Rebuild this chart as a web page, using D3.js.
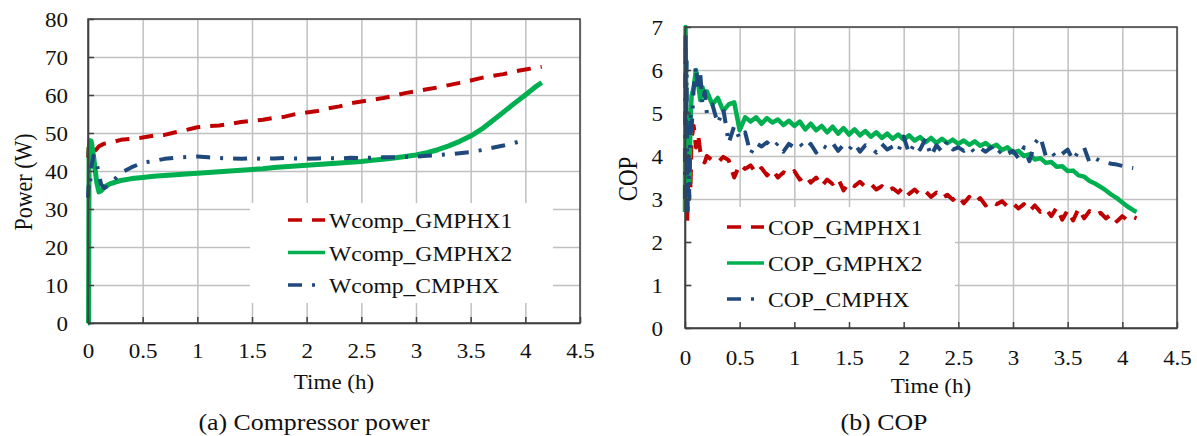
<!DOCTYPE html>
<html lang="en">
<head>
<meta charset="UTF-8">
<title>Compressor power and COP</title>
<script src="https://cdn.jsdelivr.net/npm/d3@7/dist/d3.min.js"></script>
<style>
  body { margin: 0; background: #fff; }
  svg text { font-family: "Liberation Serif", "Times New Roman", serif; fill: #111; }
</style>
</head>
<body>
<svg width="1197" height="436"></svg>
<script>
// ---- data: (a) compressor power, W ----
var powerT = [0, 0.005, 0.01, 0.02, 0.03, 0.05, 0.08, 0.1, 0.12, 0.15, 0.2, 0.25, 0.3,
  0.4, 0.5, 0.6, 0.7, 0.8, 0.9, 1.0, 1.1, 1.2, 1.3, 1.4, 1.5, 1.6, 1.7, 1.8, 1.9, 2.0,
  2.1, 2.2, 2.3, 2.4, 2.5, 2.6, 2.7, 2.8, 2.9, 3.0, 3.1, 3.2, 3.3, 3.4, 3.5, 3.6, 3.7,
  3.8, 3.9, 4.0, 4.1, 4.15];
var wGMPHX1 = [43.5, 46, 44.5, 44, 44.5, 45, 45.8, 46.5, 46.8, 47.2, 47.5, 47.8, 48.2,
  48.5, 48.8, 49.3, 49.5, 50.2, 50.8, 51.5, 51.8, 52.0, 52.4, 52.9, 53.2, 53.5, 54.0, 54.3, 55.0, 55.4,
  55.8, 56.5, 57.0, 57.8, 58.3, 58.7, 59.2, 59.8, 60.5, 61.0, 61.5, 62.0, 62.6, 63.2, 63.8, 64.5, 65.0,
  65.5, 66.2, 66.7, 67.2, 67.4];
var wGMPHX2 = [0, 0, 46, 48, 47.8, 44, 37, 34.5, 34.8, 35.8, 36.6, 37.1, 37.5,
  38.0, 38.3, 38.6, 38.8, 39.0, 39.2, 39.4, 39.6, 39.8, 40.0, 40.2, 40.4, 40.6, 40.9, 41.1, 41.3, 41.5,
  41.7, 41.9, 42.1, 42.3, 42.5, 42.8, 43.1, 43.4, 43.8, 44.2, 44.8, 45.6, 46.6, 47.8, 49.2, 51.0, 53.2,
  55.5, 57.8, 60.0, 62.3, 63.3];
var wCMPHX = [33, 36, 35, 37, 41, 44, 42, 39, 36.5, 35.5, 36.5, 38.0, 39.5,
  41.0, 42.2, 42.6, 43.2, 43.5, 43.7, 43.8, 43.6, 43.4, 43.3, 43.2, 43.4, 43.2, 43.3, 43.4, 43.3, 43.2,
  43.3, 43.4, 43.3, 43.5, 43.4, 43.5, 43.6, 43.6, 43.7, 43.8, 44.0, 44.2, 44.4, 44.7, 45.0, 45.5, 46.1,
  46.7, 47.4, 48.2, null, null];

// ---- data: (b) COP ----
var copT = [0, 0.005, 0.01, 0.015, 0.02, 0.025, 0.03, 0.04, 0.05, 0.06, 0.08, 0.1, 0.12, 0.14, 0.16, 0.18, 0.2,
  0.25, 0.3, 0.35, 0.4, 0.45, 0.5, 0.55, 0.6, 0.65, 0.7, 0.75, 0.8, 0.85, 0.9, 0.95, 1.0,
  1.05, 1.1, 1.15, 1.2, 1.25, 1.3, 1.35, 1.4, 1.45, 1.5, 1.55, 1.6, 1.65, 1.7, 1.75, 1.8,
  1.85, 1.9, 1.95, 2.0, 2.05, 2.1, 2.15, 2.2, 2.25, 2.3, 2.35, 2.4, 2.45, 2.5, 2.55, 2.6,
  2.65, 2.7, 2.75, 2.8, 2.85, 2.9, 2.95, 3.0, 3.05, 3.1, 3.15, 3.2, 3.25, 3.3, 3.35, 3.4,
  3.45, 3.5, 3.55, 3.6, 3.65, 3.7, 3.75, 3.8, 3.85, 3.9, 3.95, 4.0, 4.05, 4.1, 4.13];
var copGMPHX1 = [4.0, 6.5, 5.0, 3.0, 2.4, 3.5, 5.0, 4.6, 3.2, 4.4, 4.7, 4.2, 4.5, 4.1, 3.9, 3.85, 4.0,
  3.9, 3.85, 3.98, 3.9, 3.5, 3.8, 3.7, 3.78, 3.6, 3.72, 3.55, 3.68, 3.5, 3.62, 3.55, 3.65,
  3.45, 3.55, 3.38, 3.5, 3.3, 3.45, 3.35, 3.48, 3.2, 3.38, 3.3, 3.4, 3.28, 3.35, 3.22, 3.3,
  3.18, 3.25, 3.15, 3.28, 3.12, 3.22, 3.1, 3.18, 3.05, 3.15, 3.02, 3.1, 2.98, 3.08, 2.9, 3.05,
  2.92, 3.02, 2.85, 2.95, 2.88, 2.95, 2.82, 2.9, 2.78, 2.88, 2.72, 2.85, 2.7, 2.78, 2.6, 2.8,
  2.52, 2.74, 2.5, 2.78, 2.55, 2.72, 2.62, 2.68, 2.55, 2.65, 2.48, 2.6, 2.5, 2.58, 2.55];
var copGMPHX2 = [2.7, 7.0, 5.5, 3.2, 2.8, 3.6, 4.4, 3.4, 4.8, 5.4, 5.6, 6.0, 5.7, 5.3, 5.6, 5.4, 5.5,
  5.2, 5.35, 5.05, 5.2, 5.25, 4.6, 4.9, 4.8, 4.9, 4.75, 4.88, 4.78, 4.85, 4.72, 4.82, 4.7,
  4.8, 4.62, 4.75, 4.6, 4.7, 4.55, 4.68, 4.52, 4.65, 4.5, 4.62, 4.48, 4.58, 4.45, 4.55, 4.42,
  4.52, 4.4, 4.5, 4.38, 4.48, 4.36, 4.44, 4.32, 4.42, 4.3, 4.4, 4.3, 4.38, 4.28, 4.36, 4.26,
  4.34, 4.24, 4.3, 4.2, 4.26, 4.14, 4.2, 4.08, 4.12, 4.0, 4.04, 3.92, 3.95, 3.84, 3.86, 3.75,
  3.76, 3.65, 3.66, 3.55, 3.52, 3.42, 3.36, 3.28, 3.2, 3.1, 3.02, 2.92, 2.82, 2.74, 2.7];
var copCMPHX = [3.0, 6.9, 4.5, 6.2, 3.4, 2.6, 4.0, 3.0, 5.0, 4.6, 5.6, 6.1, 5.5, 5.9, 5.2, 5.5, 5.0,
  5.2, 4.75, 5.1, 4.3, 4.7, 4.4, 4.55, 4.05, 4.3, 4.22, 4.32, 4.18, 4.3, 4.1, 4.28, 4.2,
  4.3, 4.15, 4.28, 4.08, 4.25, 4.18, 4.3, 4.12, 4.26, 4.15, 4.3, 4.1, 4.25, 4.2, 4.08, 4.28,
  4.15, 4.22, 4.1, 4.45, 4.05, 4.3, 4.15, 4.4, 4.0, 4.25, 4.1, 4.35, 4.15, 4.2, 4.12, 4.22,
  4.08, 4.18, 4.1, 4.2, 4.02, 4.15, 4.05, 4.12, 3.95, 4.2, 3.88, 4.3, 4.45, 4.0, 4.1, 3.95,
  4.05, 4.15, 3.9, 4.12, 4.2, 3.85, 3.95, 3.88, 3.85, 3.82, 3.8, 3.77, 3.74, 3.72, null];

var timeTicks = [0, 0.5, 1, 1.5, 2, 2.5, 3, 3.5, 4, 4.5];
var powerTicks = [0, 10, 20, 30, 40, 50, 60, 70, 80];
var copTicks = [0, 1, 2, 3, 4, 5, 6, 7];

var SX = 1.15; // glyphs in the picture are a bit wide

var svg = d3.select('svg');

function stretchText(g, x, y, str, size, anchor, rotate) {
  return g.append('text')
    .attr('transform', 'translate(' + x + ',' + y + ') scale(' + SX + ',1)' + (rotate ? ' rotate(-90)' : ''))
    .attr('text-anchor', anchor)
    .attr('font-size', size)
    .text(str);
}

function drawPanel(cfg) {
  var g = svg.append('g');
  var x = d3.scaleLinear().domain([0, 4.5]).range([cfg.left, cfg.right]);
  var y = d3.scaleLinear().domain([0, cfg.ymax]).range([cfg.bottom, cfg.top]);
  var w = cfg.right - cfg.left, h = cfg.bottom - cfg.top;

  // grid
  g.append('g').attr('transform', 'translate(0,' + cfg.bottom + ')')
    .call(d3.axisBottom(x).tickValues(timeTicks).tickSize(-h).tickFormat(''))
    .call(function (a) { a.select('.domain').remove(); a.selectAll('line').attr('stroke', '#c0c0c0').attr('stroke-width', 1.5); });
  g.append('g').attr('transform', 'translate(' + cfg.left + ',0)')
    .call(d3.axisLeft(y).tickValues(cfg.yticks).tickSize(-w).tickFormat(''))
    .call(function (a) { a.select('.domain').remove(); a.selectAll('line').attr('stroke', '#c0c0c0').attr('stroke-width', 1.5); });

  // legend background
  g.append('rect').attr('x', cfg.legend.x).attr('y', cfg.legend.y)
    .attr('width', cfg.legend.w).attr('height', cfg.legend.h).attr('fill', '#fff');

  // series
  cfg.series.forEach(function (s) {
    var pts = cfg.t.map(function (t, i) { return [t, s.values[i]]; });
    var line = d3.line()
      .defined(function (d) { return d[1] !== null; })
      .x(function (d) { return x(d[0]); })
      .y(function (d) { return y(d[1]); });
    g.append('path').datum(pts).attr('d', line)
      .attr('fill', 'none').attr('stroke', s.color).attr('stroke-width', s.width)
      .attr('stroke-dasharray', s.dash).attr('stroke-linejoin', 'round');
  });

  // frame
  g.append('rect').attr('x', cfg.left).attr('y', cfg.top).attr('width', w).attr('height', h)
    .attr('fill', 'none').attr('stroke', '#404040').attr('stroke-width', 1.5);

  // axes with inward ticks
  g.append('g').attr('transform', 'translate(0,' + cfg.bottom + ')')
    .call(d3.axisBottom(x).tickValues(timeTicks).tickSize(-6).tickSizeOuter(0).tickFormat(d3.format('')))
    .call(function (a) {
      a.select('.domain').attr('stroke', '#404040').attr('stroke-width', 1.5);
      a.selectAll('line').attr('stroke', '#404040').attr('stroke-width', 1.5);
      a.selectAll('text').attr('y', null).attr('dy', null).attr('font-size', 20)
        .attr('font-family', null).attr('fill', '#111')
        .attr('transform', 'translate(0,' + cfg.xlabOff + ') scale(' + SX + ',1)');
    });
  g.append('g').attr('transform', 'translate(' + cfg.left + ',0)')
    .call(d3.axisLeft(y).tickValues(cfg.yticks).tickSize(-6).tickSizeOuter(0).tickFormat(d3.format('')))
    .call(function (a) {
      a.select('.domain').attr('stroke', '#404040').attr('stroke-width', 1.5);
      a.selectAll('line').attr('stroke', '#404040').attr('stroke-width', 1.5);
      a.selectAll('text').attr('x', null).attr('dy', null).attr('font-size', 20)
        .attr('font-family', null).attr('fill', '#111')
        .attr('transform', 'translate(' + (-cfg.ylabOff) + ',7) scale(' + SX + ',1)');
    });

  // titles
  stretchText(g, (cfg.left + cfg.right) / 2, cfg.xtitleY, 'Time (h)', 20, 'middle');
  stretchText(g, cfg.ytitleX, cfg.ytitleY, cfg.ytitle, cfg.ytitleSize, 'middle', true);
  stretchText(g, cfg.capX, 430, cfg.caption, 22.5, 'middle');

  // legend items
  cfg.series.forEach(function (s, i) {
    var ly = cfg.legend.y0 + i * cfg.legend.dy;
    g.append('line').attr('x1', cfg.legend.lx).attr('x2', cfg.legend.lx + 37)
      .attr('y1', ly).attr('y2', ly)
      .attr('stroke', s.color).attr('stroke-width', 3.5).attr('stroke-dasharray', s.dash);
    stretchText(g, cfg.legend.lx + 41, ly + 8, s.name, 20.5, 'start');
  });
}

var RED = '#c00000', GREEN = '#00b050', BLUE = '#1f497d';
var DASH = '14,10', DASHDOT = '14,10,3,10';

drawPanel({
  left: 88, right: 580, top: 19, bottom: 323, ymax: 80, yticks: powerTicks,
  t: powerT, xlabOff: 35, ylabOff: 20, xtitleY: 389,
  ytitle: 'Power (W)', ytitleX: 32, ytitleY: 182, ytitleSize: 22,
  caption: '(a) Compressor power', capX: 314,
  legend: { x: 250, y: 203, w: 303, h: 100, lx: 288, y0: 220, dy: 32.5 },
  series: [
    { name: 'Wcomp_GMPHX1', values: wGMPHX1, color: RED, width: 4, dash: DASH },
    { name: 'Wcomp_GMPHX2', values: wGMPHX2, color: GREEN, width: 5, dash: null },
    { name: 'Wcomp_CMPHX', values: wCMPHX, color: BLUE, width: 4, dash: DASHDOT }
  ]
});

drawPanel({
  left: 685, right: 1177, top: 27, bottom: 328, ymax: 7, yticks: copTicks,
  t: copT, xlabOff: 37, ylabOff: 22, xtitleY: 393,
  ytitle: 'COP', ytitleX: 637, ytitleY: 179, ytitleSize: 23,
  caption: '(b) COP', capX: 884,
  legend: { x: 692, y: 207, w: 263, h: 119, lx: 727, y0: 227, dy: 36 },
  series: [
    { name: 'COP_GMPHX1', values: copGMPHX1, color: RED, width: 4, dash: DASH },
    { name: 'COP_GMPHX2', values: copGMPHX2, color: GREEN, width: 4.5, dash: null },
    { name: 'COP_CMPHX', values: copCMPHX, color: BLUE, width: 4, dash: DASHDOT }
  ]
});
</script>
</body>
</html>
